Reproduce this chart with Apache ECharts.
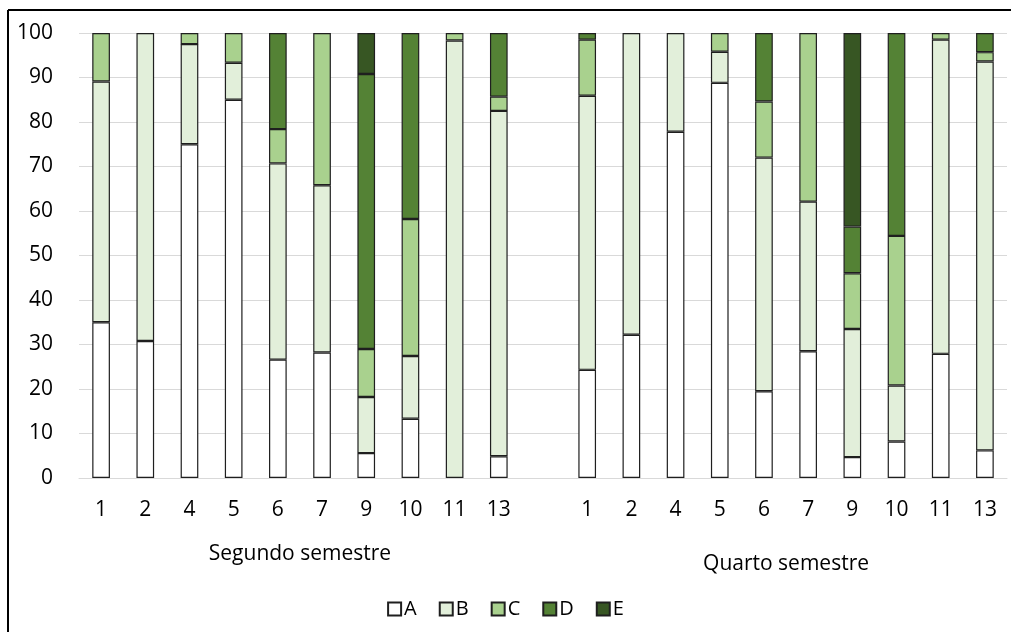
<!DOCTYPE html>
<html>
<head>
<meta charset="utf-8">
<script src="https://cdn.jsdelivr.net/npm/echarts@6/dist/echarts.min.js"></script>
<style>
  html, body { margin: 0; padding: 0; background: #fff; }
  #chart { width: 1011px; height: 632px; }
</style>
</head>
<body>
<div id="chart"></div>
<script>
// Class numbers shown under each bar, same set for both semesters
const classes = ['1', '2', '4', '5', '6', '7', '9', '10', '11', '13'];
const groupNames = ['Segundo semestre', 'Quarto semestre'];
const seriesNames = ['A', 'B', 'C', 'D', 'E'];
const yTicks = [0, 10, 20, 30, 40, 50, 60, 70, 80, 90, 100];

// Percentage of each grade per class, second semester
const segA = [35.0, 30.8, 75.0, 85.0, 26.6, 28.2, 5.6, 13.3, 0, 4.9];
const segB = [54.1, 69.2, 22.5, 8.3, 44.1, 37.6, 12.6, 14.1, 98.3, 77.6];
const segC = [10.9, 0, 2.5, 6.7, 7.7, 34.2, 10.8, 30.8, 1.7, 3.2];
const segD = [0, 0, 0, 0, 21.6, 0, 61.8, 41.8, 0, 14.3];
const segE = [0, 0, 0, 0, 0, 0, 9.2, 0, 0, 0];

// Percentage of each grade per class, fourth semester
const quaA = [24.3, 32.2, 77.8, 88.8, 19.5, 28.5, 4.7, 8.2, 27.9, 6.2];
const quaB = [61.6, 67.8, 22.2, 7.0, 52.5, 33.6, 28.8, 12.6, 70.6, 87.4];
const quaC = [12.6, 0, 0, 4.2, 12.6, 37.9, 12.5, 33.6, 1.5, 2.1];
const quaD = [1.5, 0, 0, 0, 15.4, 0, 10.5, 45.6, 0, 4.3];
const quaE = [0, 0, 0, 0, 0, 0, 43.5, 0, 0, 0];

const colors = ['#FFFFFF', '#E2EFDA', '#A9D18E', '#548235', '#375623'];

// One blank slot separates the two semesters on the category axis
const axisIds = [];
const axisLabels = [];
classes.forEach((c, i) => { axisIds.push('s' + i); axisLabels.push(c); });
axisIds.push('gap'); axisLabels.push('');
classes.forEach((c, i) => { axisIds.push('q' + i); axisLabels.push(c); });

// Empty shares are left out so no zero-height outline is drawn
const joined = (a, b) => a.concat([null], b).map(v => (v ? v : null));
const values = [
  joined(segA, quaA), joined(segB, quaB), joined(segC, quaC),
  joined(segD, quaD), joined(segE, quaE)
];

const font = '"Open Sans", "Noto Sans", sans-serif';

const chart = echarts.init(document.getElementById('chart'), null, { renderer: 'canvas' });

const option = {
  animation: false,
  backgroundColor: '#fff',
  textStyle: { fontFamily: font },
  grid: { left: 79, right: 4, top: 33, bottom: 154, containLabel: false },
  legend: {
    top: 594,
    left: 'center',
    itemWidth: 13,
    itemHeight: 13,
    itemGap: 22,
    icon: 'rect',
    textStyle: { fontFamily: font, fontSize: 20, color: '#000', padding: [0, 0, 0, -2] },
    data: seriesNames
  },
  xAxis: {
    type: 'category',
    data: axisIds,
    axisLine: { show: true, lineStyle: { color: '#D9D9D9', width: 1 } },
    axisTick: { show: false },
    axisLabel: {
      interval: 0,
      margin: 22,
      fontFamily: font,
      fontSize: 21,
      color: '#000',
      formatter: (v, idx) => axisLabels[idx]
    }
  },
  yAxis: {
    type: 'value',
    min: 0,
    max: 100,
    interval: 10,
    axisLine: { show: false },
    axisTick: { show: false },
    splitLine: { lineStyle: { color: '#D9D9D9', width: 1 } },
    axisLabel: {
      margin: 26,
      fontFamily: font,
      fontSize: 21,
      color: '#000',
      formatter: v => (yTicks.indexOf(v) >= 0 ? String(v) : '')
    }
  },
  series: seriesNames.map((name, i) => ({
    name: name,
    type: 'bar',
    stack: 'total',
    barWidth: '40%',
    data: values[i],
    itemStyle: { color: colors[i], borderColor: '#1F1F1F', borderWidth: 1.2 },
    emphasis: { disabled: true }
  })),
  graphic: [
    // Outer chart frame (top and left edges visible)
    { type: 'line', shape: { x1: 8, y1: 10, x2: 1011, y2: 10 }, style: { stroke: '#000', lineWidth: 2 } },
    { type: 'line', shape: { x1: 8, y1: 10, x2: 8, y2: 632 }, style: { stroke: '#000', lineWidth: 2 } }
  ]
};

chart.setOption(option);

// Semester captions centred under each group of bars
const firstSeg = chart.convertToPixel({ xAxisIndex: 0 }, 's0');
const lastSeg = chart.convertToPixel({ xAxisIndex: 0 }, 's' + (classes.length - 1));
const firstQua = chart.convertToPixel({ xAxisIndex: 0 }, 'q0');
const lastQua = chart.convertToPixel({ xAxisIndex: 0 }, 'q' + (classes.length - 1));

chart.setOption({
  graphic: option.graphic.concat([
    {
      type: 'text', x: (firstSeg + lastSeg) / 2, y: 554,
      style: { text: groupNames[0], fill: '#000', font: '21px ' + font, align: 'center', verticalAlign: 'middle' }
    },
    {
      type: 'text', x: (firstQua + lastQua) / 2, y: 564,
      style: { text: groupNames[1], fill: '#000', font: '21px ' + font, align: 'center', verticalAlign: 'middle' }
    }
  ])
});
</script>
</body>
</html>
